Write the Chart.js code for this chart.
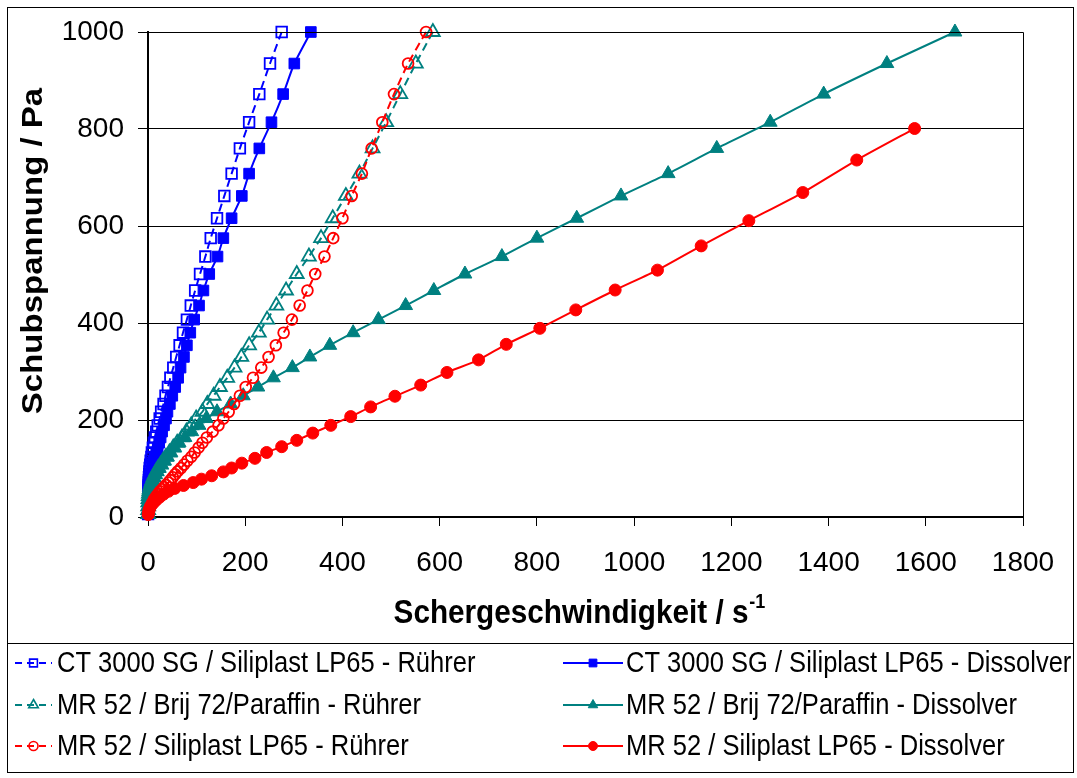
<!DOCTYPE html>
<html><head><meta charset="utf-8">
<script src="https://cdn.jsdelivr.net/npm/chart.js@4.4.1/dist/chart.umd.min.js"></script>
<style>html,body{margin:0;padding:0;background:#fff;}canvas{display:block;}</style>
</head><body>
<canvas id="c" width="1077" height="778"></canvas>
<script>
// ---- tick values ----
const xTickValues = [0, 200, 400, 600, 800, 1000, 1200, 1400, 1600, 1800];
const yTickValues = [0, 200, 400, 600, 800, 1000];

// ---- series labels ----
const seriesLabels = [
  'CT 3000 SG / Siliplast LP65 - Rührer',
  'CT 3000 SG / Siliplast LP65 - Dissolver',
  'MR 52 / Brij 72/Paraffin - Rührer',
  'MR 52 / Brij 72/Paraffin - Dissolver',
  'MR 52 / Siliplast LP65 - Rührer',
  'MR 52 / Siliplast LP65 - Dissolver'
];

// ---- shear stress (Pa) ----
const stressMain = [1000, 935, 872, 814, 760, 708, 662, 616, 575, 537, 501, 467, 436, 407, 380, 354, 330, 308, 287, 268,
  250, 233, 217, 203, 189, 176, 164, 153, 143, 133, 124, 116, 108, 101, 94, 88, 82, 76, 71, 66,
  62, 57, 53, 48, 43, 37, 30, 22, 14, 6];
const stressSilDiss = [801, 736, 669, 611, 559, 509, 468, 427, 389, 356, 324, 298, 272, 249, 227, 207, 189, 173, 158, 145,
  133, 121, 111, 101, 93, 85, 78, 71, 65, 59, 53, 47, 41, 35, 29, 23, 17, 11, 5];

// ---- shear rate (1/s) ----
const rateCtRuehrer = [275, 251, 229, 208, 189, 172, 157, 142, 129, 118, 107, 97, 88, 80, 72, 65, 58, 52, 46, 41,
  36, 32, 27, 24, 20, 17, 14, 12, 10, 8, 7, 5.5, 4.5, 3.5, 3, 2.5, 2, 1.8, 1.5, 1.3,
  1.1, 1, 0.9, 0.8, 0.7, 0.6, 0.5, 0.4, 0.3, 0.2];
const rateCtDiss = [335, 301, 278, 254, 229, 208, 193, 172, 155, 143, 126, 114, 105, 95, 87, 80, 74, 67, 62, 56,
  50, 45, 40, 37, 33, 29, 26, 23, 20, 17, 14, 12, 10, 8, 6.5, 5, 4, 3.3, 2.7, 2.2,
  1.8, 1.5, 1.2, 1, 0.8, 0.6, 0.5, 0.4, 0.3, 0.2];
const rateBrijRuehrer = [586, 551, 519, 490, 462, 435, 407, 380, 356, 331, 306, 284, 264, 245, 228, 208, 192, 178, 163, 148,
  135, 122, 112, 99, 89, 79, 70, 60, 52, 44, 37, 31, 26, 21, 17, 14, 11, 9, 7, 5.5,
  4.5, 3.5, 2.8, 2, 1.5, 1, 0.7, 0.5, 0.3, 0.2];
const rateBrijDiss = [1660, 1520, 1390, 1280, 1170, 1070, 973, 882, 800, 728, 652, 588, 530, 474, 422, 374, 333, 297, 258, 226,
  196, 170, 142, 120, 105, 90, 76, 64, 55, 47, 40, 34, 28, 23, 19, 15, 12, 9.5, 7.5, 6,
  4.8, 3.8, 3, 2.3, 1.7, 1.2, 0.8, 0.5, 0.3, 0.2];
const rateSilRuehrer = [572, 535, 506, 482, 460, 440, 419, 400, 381, 363, 344, 328, 312, 296, 279, 263, 248, 233, 216, 201,
  189, 177, 166, 155, 145, 133, 121, 112, 104, 96, 89, 81, 74, 68, 61, 56, 51, 46, 42, 37,
  33, 29, 25, 21, 17, 13, 9, 5, 2, 0.5];
const rateSilDiss = [1577, 1458, 1347, 1236, 1138, 1048, 961, 880, 806, 737, 680, 615, 561, 508, 458, 417, 376, 339, 306, 275,
  244, 220, 193, 172, 155, 131, 110, 93, 73, 55, 42, 32, 24, 17, 11, 6, 3, 1.5, 0.5];

const BLUE = '#0000FF', TEAL = '#008080', RED = '#FF0000';

function makeSet(label, xs, ys, color, style, filled, dashed, radius, order) {
  return {
    label,
    data: xs.map((x, i) => ({ x: x, y: ys[i] })),
    borderColor: color,
    backgroundColor: filled ? color : 'rgba(0,0,0,0)',
    pointBackgroundColor: filled ? color : 'rgba(0,0,0,0)',
    pointBorderColor: color,
    pointStyle: style,
    pointRadius: radius,
    pointBorderWidth: filled ? 1 : 1.8,
    borderWidth: 2,
    borderDash: dashed ? [8, 5] : [],
    showLine: true,
    tension: 0.2,
    order: order,
    clip: false,
    _filled: filled, _dashed: dashed
  };
}

const datasets = [
  makeSet(seriesLabels[0], rateCtRuehrer, stressMain, BLUE, 'rect', false, true, 7.5, 5),
  makeSet(seriesLabels[1], rateCtDiss, stressMain, BLUE, 'rect', true, false, 7.5, 4),
  makeSet(seriesLabels[2], rateBrijRuehrer, stressMain, TEAL, 'triangle', false, true, 8, 3),
  makeSet(seriesLabels[3], rateBrijDiss, stressMain, TEAL, 'triangle', true, false, 8, 2),
  makeSet(seriesLabels[4], rateSilRuehrer, stressMain, RED, 'circle', false, true, 5.4, 1),
  makeSet(seriesLabels[5], rateSilDiss, stressSilDiss, RED, 'circle', true, false, 6, 0)
];

function drawMarker(ctx, ds, x, y, r) {
  ctx.save();
  ctx.setLineDash([]);
  ctx.fillStyle = ds._filled ? ds.borderColor : 'rgba(0,0,0,0)';
  ctx.strokeStyle = ds.borderColor;
  ctx.lineWidth = ds._filled ? 1 : 1.6;
  if (Chart.helpers && Chart.helpers.drawPoint) {
    Chart.helpers.drawPoint(ctx, { pointStyle: ds.pointStyle, radius: r, rotation: 0, borderWidth: ctx.lineWidth }, x, y);
  }
  ctx.restore();
}

const decor = {
  id: 'decor',
  afterDraw(chart) {
    const { ctx, chartArea: a } = chart;
    ctx.save();
    ctx.strokeStyle = '#000';
    ctx.lineWidth = 1;
    // plot area top / right
    ctx.beginPath();
    ctx.moveTo(a.left, a.top + 0.5); ctx.lineTo(a.right + 0.5, a.top + 0.5); ctx.lineTo(a.right + 0.5, a.bottom);
    ctx.stroke();
    // outer frame and legend frame
    ctx.strokeRect(7.5, 7.5, 1066, 765);
    ctx.strokeRect(7.5, 643.5, 1066, 129);

    ctx.fillStyle = '#000';
    // y title
    ctx.save();
    ctx.translate(34, 251);
    ctx.rotate(-Math.PI / 2);
    ctx.scale(1, 0.9);
    ctx.font = 'bold 33px "Liberation Sans", Arial, sans-serif';
    ctx.textAlign = 'center'; ctx.textBaseline = 'middle';
    ctx.fillText('Schubspannung / Pa', 0, 0);
    ctx.restore();

    // x title with superscript
    ctx.save();
    ctx.font = 'bold 33px "Liberation Sans", Arial, sans-serif';
    const main = 'Schergeschwindigkeit / s';
    const w1 = ctx.measureText(main).width;
    ctx.font = 'bold 20px "Liberation Sans", Arial, sans-serif';
    const w2 = ctx.measureText('-1').width;
    const total = (w1 + w2) * 0.9;
    ctx.translate(579 - total / 2, 614);
    ctx.scale(0.9, 1);
    ctx.textAlign = 'left'; ctx.textBaseline = 'middle';
    ctx.font = 'bold 33px "Liberation Sans", Arial, sans-serif';
    ctx.fillText(main, 0, 0);
    ctx.font = 'bold 20px "Liberation Sans", Arial, sans-serif';
    ctx.fillText('-1', w1 + 1, -12);
    ctx.restore();

    // legend
    const rows = [663, 705, 746];
    const cols = [{ l: 15, r: 52, m: 33.5, t: 57 }, { l: 563, r: 623, m: 593, t: 626 }];
    chart.data.datasets.forEach((ds, i) => {
      const c = cols[i % 2], y = rows[Math.floor(i / 2)];
      ctx.save();
      ctx.strokeStyle = ds.borderColor; ctx.lineWidth = 2;
      ctx.setLineDash(ds._dashed ? [7, 5] : []);
      ctx.beginPath(); ctx.moveTo(c.l, y); ctx.lineTo(c.r, y); ctx.stroke();
      ctx.restore();
      drawMarker(ctx, ds, c.m, y, ds.pointStyle === 'circle' ? 4.5 : 5.5);
      ctx.save();
      ctx.translate(c.t, y);
      ctx.scale(0.88, 1);
      ctx.fillStyle = '#000';
      ctx.font = '29px "Liberation Sans", Arial, sans-serif';
      ctx.textAlign = 'left'; ctx.textBaseline = 'middle';
      ctx.fillText(ds.label, 0, 1);
      ctx.restore();
    });
    ctx.restore();
  }
};

const tickFont = { family: '"Liberation Sans", Arial, sans-serif', size: 28 };

new Chart(document.getElementById('c'), {
  type: 'scatter',
  data: { datasets },
  options: {
    responsive: false,
    animation: false,
    devicePixelRatio: 1,
    layout: { padding: { left: 0, top: 32, right: 54, bottom: 161 } },
    plugins: { legend: { display: false }, tooltip: { enabled: false } },
    scales: {
      x: {
        type: 'linear', min: 0, max: 1800,
        afterBuildTicks: s => { s.ticks = xTickValues.map(v => ({ value: v })); },
        ticks: { font: tickFont, color: '#000', padding: 20, maxRotation: 0, callback: v => String(v) },
        grid: { display: true, drawOnChartArea: false, drawTicks: true, tickLength: 9, color: '#000', lineWidth: 1 },
        border: { display: true, color: '#000', width: 2 },
        afterFit: s => { s.height = 100; }
      },
      y: {
        type: 'linear', min: 0, max: 1000,
        afterBuildTicks: s => { s.ticks = yTickValues.map(v => ({ value: v })); },
        ticks: { font: tickFont, color: '#000', padding: 14, callback: v => String(v) },
        grid: { display: true, drawOnChartArea: true, drawTicks: true, tickLength: 10, color: '#000', lineWidth: 1 },
        border: { display: true, color: '#000', width: 2 },
        afterFit: s => { s.width = 148; }
      }
    }
  },
  plugins: [decor]
});
</script>
</body></html>
